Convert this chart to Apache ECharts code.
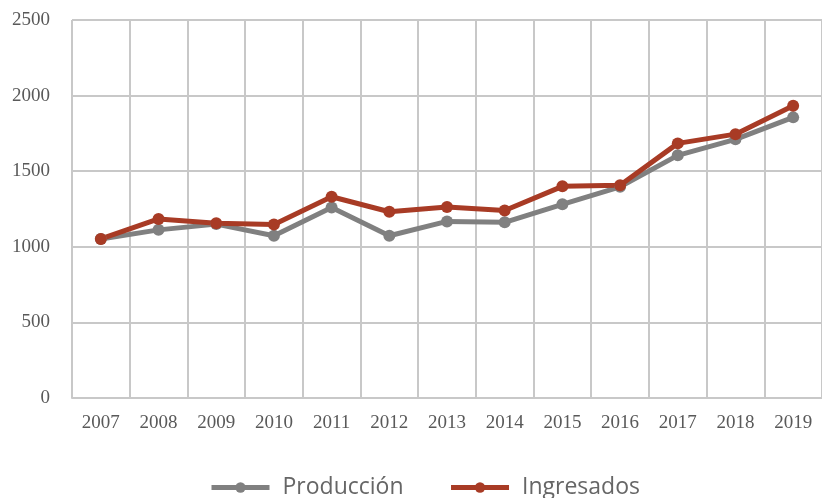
<!DOCTYPE html>
<html><head><meta charset="utf-8">
<script src="https://cdn.jsdelivr.net/npm/echarts@6/dist/echarts.min.js"></script>
<style>html,body{margin:0;padding:0;background:#fff}#c{width:822px;height:498px}</style>
</head><body><div id="c"></div>
<script>
const years = ['2007','2008','2009','2010','2011','2012','2013','2014','2015','2016','2017','2018','2019'];
const produccion = [1052, 1112, 1150, 1073, 1260, 1073, 1168, 1162, 1281, 1397, 1605, 1711, 1856];
const ingresados = [1052, 1184, 1155, 1147, 1331, 1232, 1263, 1240, 1400, 1407, 1684, 1745, 1933];
const gridColor = '#c8c8c8';
const chart = echarts.init(document.getElementById('c'));
chart.setOption({
  animation: false,
  grid: {left: 72, right: 0, top: 20, bottom: 100},
  legend: {
    top: 471, left: 204, itemWidth: 58, itemHeight: 13, itemGap: 45,
    lineStyle: {width: 5},
    textStyle: {fontFamily: 'Open Sans', fontSize: 23, color: '#666666', padding: [0, 0, 0, 8]},
    data: ['Producción', 'Ingresados']
  },
  xAxis: {
    type: 'category', data: years, boundaryGap: true,
    axisLine: {show: true, lineStyle: {color: gridColor, width: 2}},
    axisTick: {show: false},
    splitLine: {show: true, lineStyle: {color: gridColor, width: 2}},
    axisLabel: {fontFamily: 'Liberation Serif', fontSize: 19, color: '#595959', margin: 16}
  },
  yAxis: {
    type: 'value', min: 0, max: 2500, interval: 500,
    axisLine: {show: false}, axisTick: {show: false},
    splitLine: {show: true, lineStyle: {color: gridColor, width: 2}},
    axisLabel: {fontFamily: 'Liberation Serif', fontSize: 19, color: '#595959', margin: 22,
      formatter: v => String(v)}
  },
  series: [
    {name: 'Producción', type: 'line', data: produccion, symbol: 'circle', symbolSize: 12,
     lineStyle: {width: 5, color: '#808080'}, itemStyle: {color: '#808080'}},
    {name: 'Ingresados', type: 'line', data: ingresados, symbol: 'circle', symbolSize: 12,
     lineStyle: {width: 5, color: '#a83b25'}, itemStyle: {color: '#a83b25'}}
  ]
});
</script></body></html>
